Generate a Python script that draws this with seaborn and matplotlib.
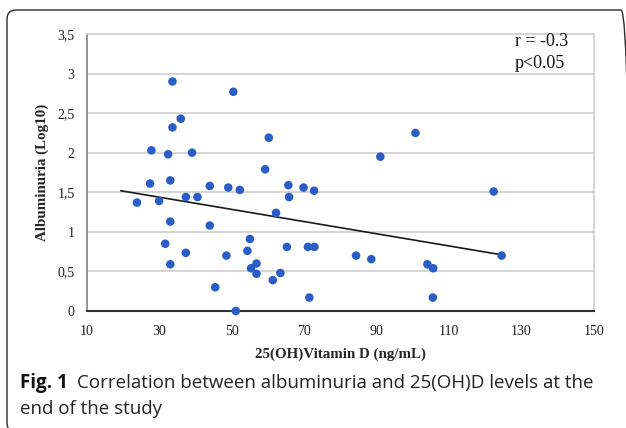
import matplotlib
matplotlib.use("Agg")
from matplotlib import pyplot as plt
from matplotlib.patches import FancyBboxPatch
from matplotlib.transforms import IdentityTransform
import numpy as np
import pandas as pd
import seaborn as sb

# values
vitd = [23.8, 29.9, 37.3, 40.5, 33.0, 43.9, 31.6, 37.3, 33.0, 45.4,
        33.6, 35.9, 33.6, 27.8, 32.4, 39.0, 27.4, 33.0, 43.9,
        50.4, 60.2, 59.2, 49.0, 52.2, 65.6, 69.8, 72.7, 65.8,
        62.2, 55.0, 48.5, 54.3, 65.2, 71.0, 72.8, 56.8, 55.3, 56.8, 63.4, 61.3, 71.4, 51.1,
        100.7, 91.0, 122.3, 124.5, 84.3, 88.5, 104.0, 105.6, 105.5]
alb = [1.37, 1.39, 1.44, 1.44, 1.13, 1.08, 0.85, 0.735, 0.59, 0.30,
       2.90, 2.43, 2.32, 2.03, 1.98, 2.00, 1.61, 1.65, 1.58,
       2.77, 2.19, 1.79, 1.56, 1.53, 1.59, 1.56, 1.52, 1.44,
       1.24, 0.91, 0.70, 0.76, 0.81, 0.81, 0.81, 0.60, 0.54, 0.47, 0.48, 0.39, 0.17, 0.0,
       2.25, 1.95, 1.51, 0.70, 0.70, 0.655, 0.59, 0.54, 0.17]
trend_x = [19.3, 124.5]
trend_y = [1.52, 0.71]

x_ticks = [10, 30, 50, 70, 90, 110, 130, 150]
y_ticks = [0, 0.5, 1, 1.5, 2, 2.5, 3, 3.5]
y_tick_labels = ["0", "0,5", "1", "1,5", "2", "2,5", "3", "3,5"]

df = pd.DataFrame({"vitd": vitd, "alb": alb})
trend = pd.DataFrame({"x": trend_x, "y": trend_y})

sb.set_style("white")
plt.rcParams["font.family"] = ["Liberation Serif", "DejaVu Serif"]

fig = plt.figure(figsize=(6.26, 4.28), dpi=100)
W, H = 626, 428
ax = fig.add_axes([87 / W, 1 - 311 / H, (594 - 87) / W, (311 - 34) / H])

for yv in y_ticks[1:]:
    ax.axhline(yv, color="#d2d2d2", lw=1.3, zorder=0)

sb.scatterplot(data=df, x="vitd", y="alb", ax=ax, color="#2a5dc6", s=38,
               edgecolor="none", zorder=3, clip_on=False)
sb.lineplot(data=trend, x="x", y="y", ax=ax, color="#1a1a1a", lw=1.2, zorder=2)

ax.set_xlim(10, 150)
ax.set_ylim(0, 3.5)
ax.set_xticks(x_ticks)
ax.set_xticklabels([str(t) for t in x_ticks])
ax.set_yticks(y_ticks)
ax.set_yticklabels(y_tick_labels)
ax.tick_params(axis="both", length=0, labelsize=10, colors="#1e1e1e")
ax.tick_params(axis="x", pad=10)
ax.tick_params(axis="y", pad=9)

for side in ["top", "right"]:
    ax.spines[side].set_color("#d2d2d2")
    ax.spines[side].set_linewidth(1.3)
ax.spines["left"].set_color("#8a8a8a")
ax.spines["left"].set_linewidth(1.3)
ax.spines["bottom"].set_color("#333333")
ax.spines["bottom"].set_linewidth(1.5)

ax.set_xlabel("25(OH)Vitamin D (ng/mL)", fontsize=10.8, fontweight="bold", labelpad=7)
ax.set_ylabel("Albuminuria (Log10)", fontsize=10.8, fontweight="bold", labelpad=6)

ax.text(515 / W, 1 - 42 / H, "r = -0.3", transform=fig.transFigure, fontsize=13,
        va="center", ha="left", color="#111111")
ax.text(515 / W, 1 - 63 / H, "p<0.05", transform=fig.transFigure, fontsize=13,
        va="center", ha="left", color="#111111")

# caption
cap_font = ["Open Sans", "DejaVu Sans"]
fig_lab = fig.text(20 / W, 1 - 383 / H, "Fig. 1", fontsize=13.5, fontweight="bold",
                   family=cap_font, va="center", ha="left", color="#111111")
fig.canvas.draw()
bb = fig_lab.get_window_extent()
fig.text((bb.x1 + 9) / W, 1 - 383 / H,
         "Correlation between albuminuria and 25(OH)D levels at the",
         fontsize=13.5, family=cap_font, va="center", ha="left", color="#222222")
fig.text(20 / W, 1 - 409 / H, "end of the study", fontsize=13.5, family=cap_font,
         va="center", ha="left", color="#222222")

box = FancyBboxPatch((7, -4), 623, 422, boxstyle="round,pad=0,rounding_size=9",
                     transform=IdentityTransform(), fill=False, ec="#2a2a2a", lw=1.0)
fig.add_artist(box)

fig.savefig("out.png", dpi=100)
